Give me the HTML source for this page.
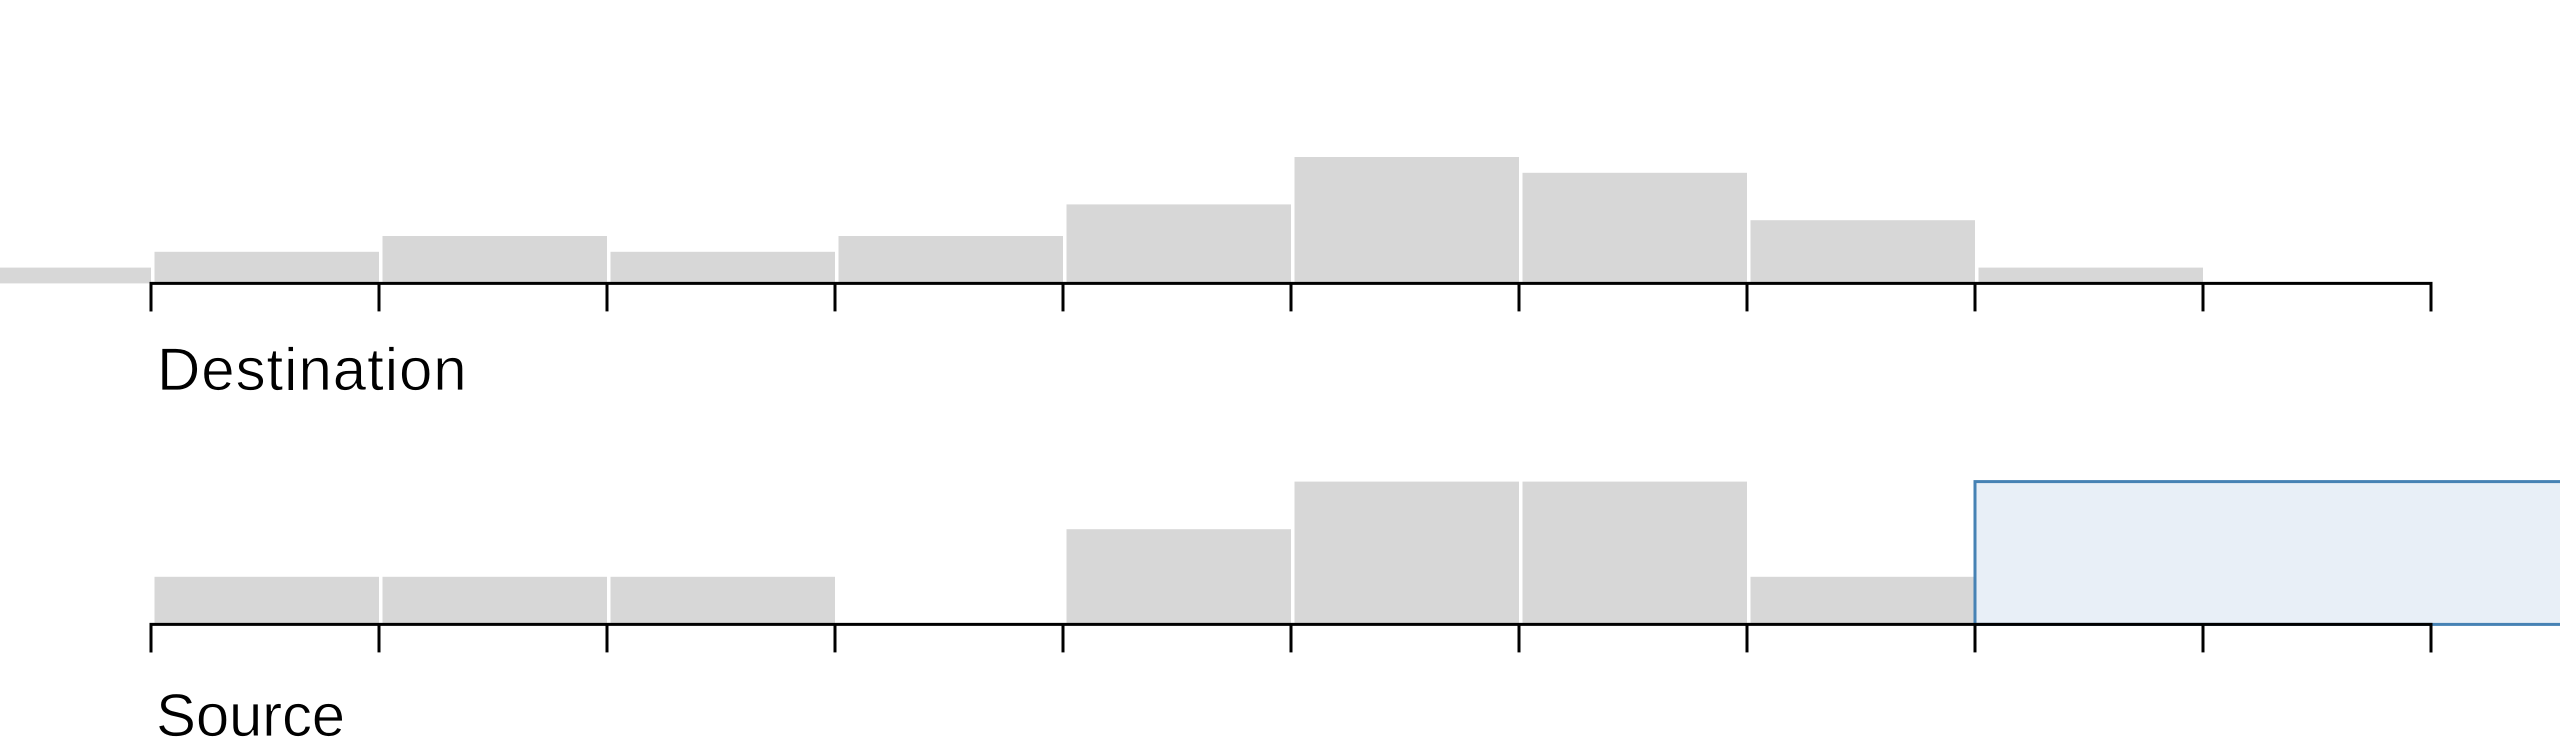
<!DOCTYPE html>
<html lang="en">
<head>
<meta charset="utf-8">
<title>Destination and Source histograms</title>
<style>
  html, body { margin: 0; padding: 0; background: #fff; }
  body { width: 2560px; height: 742px; overflow: hidden; }
  svg { display: block; }
  text { font-family: "Liberation Sans", sans-serif; fill: #000; stroke: #fff; stroke-width: 0.8px; }
</style>
</head>
<body>
<svg id="chart" xmlns="http://www.w3.org/2000/svg" width="2560" height="742" viewBox="0 0 2560 742"></svg>
<script>
// Chart data: bin index (0 = first axis tick) and the count read for each bin
const destinationBins = [-1, 0, 1, 2, 3, 4, 5, 6, 7, 8];
const destinationValues = [1, 2, 3, 2, 3, 5, 8, 7, 4, 1];
const sourceBins = [0, 1, 2, 3, 4, 5, 6, 7];
const sourceValues = [1, 1, 1, 0, 2, 3, 3, 1];
const axisTicks = [0, 1, 2, 3, 4, 5, 6, 7, 8, 9, 10];
const brushExtent = [8, 13];
const brushCounts = [0, 3];

const NS = 'http://www.w3.org/2000/svg';
const svg = document.getElementById('chart');

function x(binIndex) { return 151 + 228 * binIndex; }
function yDestination(v) { return 283.4 - 15.8 * v; }
function ySource(v) { return 624.4 - 47.6 * v; }

function make(tag, attrs, parent) {
  const el = document.createElementNS(NS, tag);
  for (const k in attrs) el.setAttribute(k, attrs[k]);
  parent.appendChild(el);
  return el;
}

function drawBars(group, bins, values, yScale, prefix) {
  bins.forEach(function (bin, i) {
    if (values[i] <= 0) return;
    const bar = make('rect', {
      x: x(bin) + 3.5,
      y: yScale(values[i]),
      width: x(bin + 1) - x(bin) - 3.5,
      height: yScale(0) - yScale(values[i]),
      fill: '#d7d7d7'
    }, group);
    
    
  });
}

function drawAxis(group, yBase, prefix) {
  const first = axisTicks[0];
  const last = axisTicks[axisTicks.length - 1];
  const domain = make('path', {
    d: 'M' + x(first) + ',' + (yBase + 28) + 'V' + yBase + 'H' + x(last) + 'V' + (yBase + 28),
    fill: 'none',
    stroke: '#000',
    'stroke-width': 3
  }, group);
  
  
  axisTicks.forEach(function (t) {
    const tick = make('line', {
      x1: x(t),
      x2: x(t),
      y1: yBase,
      y2: yBase + 28,
      stroke: '#000',
      'stroke-width': 3
    }, group);
    
    
  });
}

function drawLabel(group, label, xPos, yPos, spacing, name) {
  const t = make('text', {
    x: xPos,
    y: yPos,
    'font-size': 60,
    'letter-spacing': spacing
  }, group);
  t.textContent = label;
  
  
}

// Destination histogram
const destGroup = make('g', {}, svg);


drawBars(destGroup, destinationBins, destinationValues, yDestination, 'destination');
drawAxis(destGroup, yDestination(0), 'destination');
drawLabel(destGroup, 'Destination', 157, 390, 0.95, 'destination-axis-title');

// Source histogram
const srcGroup = make('g', {}, svg);


drawBars(srcGroup, sourceBins, sourceValues, ySource, 'source');

const brush = make('rect', {
  x: x(brushExtent[0]),
  y: ySource(brushCounts[1]),
  width: x(brushExtent[1]) - x(brushExtent[0]),
  height: ySource(brushCounts[0]) - ySource(brushCounts[1]),
  fill: '#e8eff7',
  stroke: '#4682b4',
  'stroke-width': 3
}, srcGroup);



drawAxis(srcGroup, ySource(0), 'source');
drawLabel(srcGroup, 'Source', 156, 736, -0.2, 'source-axis-title');
</script>
</body>
</html>
